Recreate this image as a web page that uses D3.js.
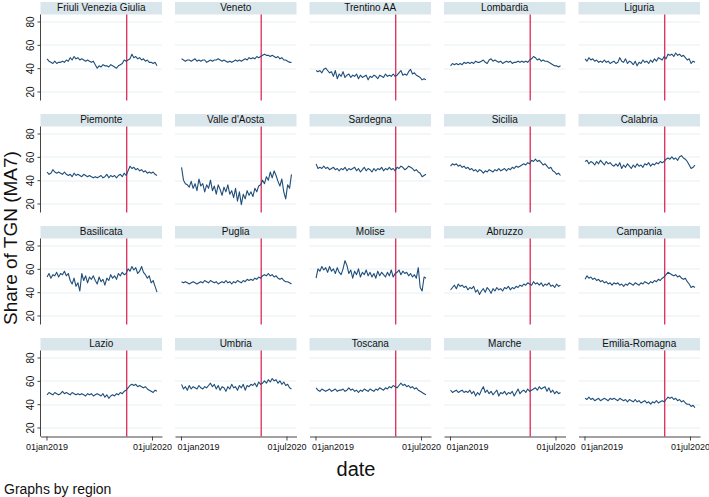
<!DOCTYPE html>
<html>
<head>
<meta charset="utf-8">
<script src="https://cdn.jsdelivr.net/npm/d3@7"></script>
<style>
  html, body { margin: 0; padding: 0; background: #fff; }
  svg { display: block; font-family: "Liberation Sans", Arial, Helvetica, sans-serif; }
</style>
</head>
<body>
<svg id="chart" width="709" height="497"></svg>
<script>
const regionNames = ["Friuli Venezia Giulia","Veneto","Trentino AA","Lombardia","Liguria",
  "Piemonte","Valle d'Aosta","Sardegna","Sicilia","Calabria",
  "Basilicata","Puglia","Molise","Abruzzo","Campania",
  "Lazio","Umbria","Toscana","Marche","Emilia-Romagna"];

const friuli = [48,46,45,44,46,44,45,45,46,45,47,46,49,47,50,48,49,47,48,47,46,47,46,45,46,43,40,42,41,43,42,42,41,43,42,41,40,42,43,44,47,46,47,48,52,49,50,48,49,47,48,46,47,45,45,44,45,42];
const veneto = [48,47,46,47,47,46,47,48,46,47,46,47,47,45,46,47,46,47,47,48,47,46,47,46,45,46,45,46,47,46,47,46,47,48,47,49,48,49,48,50,49,50,51,52,51,51,50,51,50,49,50,48,49,47,47,46,45,45];
const trentino = [38,37,38,36,39,40,38,36,37,33,38,31,35,33,37,32,34,35,32,34,33,35,31,34,32,33,34,30,33,32,34,33,31,34,33,32,35,33,34,33,35,33,34,36,38,34,35,34,37,39,35,36,34,33,32,30,31,30];
const lombardia = [42,44,43,44,43,44,43,45,44,45,44,45,44,46,45,45,46,47,45,44,47,48,46,47,46,45,46,44,45,46,45,46,44,45,45,46,45,46,45,46,45,47,48,50,49,47,48,46,47,46,46,45,44,43,42,42,41,42];
const liguria = [48,46,49,47,48,46,47,45,46,45,47,45,46,44,45,46,44,45,49,46,45,48,44,46,45,43,46,42,45,44,47,45,46,44,47,45,48,46,49,48,47,50,48,52,51,52,50,53,51,52,50,51,49,47,48,44,46,45];
const piemonte = [47,45,46,49,47,46,47,46,45,47,45,44,45,43,46,44,45,44,43,45,44,43,44,43,42,43,42,43,44,42,43,45,42,44,43,44,42,44,45,43,46,44,48,52,50,51,49,50,48,49,47,48,46,47,46,47,45,44];
const valleAosta = [51,40,37,36,34,39,33,37,31,41,35,37,30,36,33,40,31,35,28,36,32,27,34,30,36,28,31,25,33,22,30,19,28,24,31,27,30,26,33,30,35,36,40,37,43,40,47,42,48,44,39,35,41,30,24,36,33,45];
const sardegna = [54,50,51,50,52,50,51,49,50,51,49,50,48,50,49,51,48,50,49,50,51,48,50,47,49,51,48,50,49,47,50,48,50,49,51,48,50,49,51,49,50,48,51,50,52,51,49,50,52,51,50,48,49,47,46,43,44,45];
const sicilia = [52,54,53,54,52,53,51,52,50,51,49,50,48,49,47,49,48,46,48,47,49,48,47,49,48,50,48,49,50,48,50,49,51,50,52,51,52,53,54,53,55,54,57,56,58,56,57,55,53,54,52,50,51,48,47,45,46,44];
const calabria = [56,57,54,56,55,53,56,54,57,55,53,56,54,55,53,52,54,52,55,50,53,51,54,52,50,53,51,54,52,53,51,54,53,55,52,54,53,55,54,56,55,56,58,59,58,60,58,59,57,60,61,59,58,56,53,50,51,53];
const basilicata = [53,56,52,55,54,57,53,56,55,58,54,56,50,47,52,45,48,41,56,50,54,48,53,51,54,50,47,53,49,51,46,52,50,55,52,54,51,56,54,57,55,56,60,58,62,59,61,56,58,62,57,55,52,54,48,50,45,40];
const puglia = [49,48,49,48,47,48,49,48,47,48,49,48,50,49,48,50,49,48,49,47,48,49,48,50,48,49,47,49,48,50,49,48,50,49,51,50,51,50,52,51,53,52,54,55,54,56,54,55,53,54,52,51,52,50,49,49,48,47];
const molise = [52,60,58,62,59,61,57,62,58,60,56,61,57,55,60,67,63,56,59,52,58,55,60,53,57,55,59,54,57,53,56,52,58,54,57,55,53,57,54,59,53,56,57,59,55,58,56,57,54,56,53,55,52,61,44,41,53,52];
const abruzzo = [42,44,46,43,47,45,46,44,45,42,44,43,45,40,42,38,41,43,40,44,42,39,43,41,44,42,43,41,44,43,45,42,44,43,45,44,46,45,47,46,48,47,46,49,47,48,46,48,45,47,46,48,45,46,44,47,45,46];
const campania = [51,54,52,53,51,52,50,51,49,50,48,49,47,48,46,48,47,48,46,47,45,47,46,48,47,46,48,47,46,48,47,49,48,47,49,48,50,49,51,50,52,53,55,57,56,55,54,55,53,54,52,51,52,49,47,44,45,44];
const lazio = [48,50,49,48,50,49,48,49,51,49,50,49,48,50,49,48,49,48,49,48,47,49,48,49,47,48,49,48,47,49,46,48,45,47,48,47,49,48,50,49,51,52,54,56,57,56,57,55,56,55,54,55,53,52,51,50,52,51];
const umbria = [57,53,55,52,56,53,55,54,53,56,54,53,55,54,56,58,55,57,53,56,52,55,54,51,55,53,57,54,55,52,56,54,57,52,56,55,57,56,58,55,59,57,58,60,58,61,59,62,60,61,58,60,57,59,56,57,54,53];
const toscana = [54,52,51,53,52,51,52,53,51,52,53,51,52,52,53,51,52,54,52,53,51,52,50,52,51,53,52,51,53,52,51,53,52,54,53,52,54,53,55,54,56,55,54,56,58,56,57,55,56,54,55,53,54,52,51,50,49,48];
const marche = [52,50,51,52,50,51,52,50,51,50,52,49,51,47,50,48,52,55,50,52,49,51,48,50,52,47,50,49,51,48,50,49,51,47,50,53,49,51,52,50,53,51,52,53,54,52,55,53,54,55,51,54,50,52,49,51,49,50];
const emilia = [45,44,46,44,45,43,44,45,43,44,45,44,43,45,44,45,44,43,45,44,43,44,42,44,43,42,44,42,43,41,42,43,41,42,40,42,41,43,41,42,43,42,44,46,45,46,44,45,43,44,42,43,41,40,40,38,39,37];

const seriesValues = [friuli, veneto, trentino, lombardia, liguria,
  piemonte, valleAosta, sardegna, sicilia, calabria,
  basilicata, puglia, molise, abruzzo, campania,
  lazio, umbria, toscana, marche, emilia];

const sampleStart = "2019-01-04";
const sampleStepDays = 10;
const eventDate = "2020-02-21";
const yTicks = [20, 40, 60, 80];
const xTickDates = ["2019-01-01", "2020-07-01"];

// ---- drawing ----
const parse = d3.utcParse("%Y-%m-%d");
const fmt = d3.utcFormat("%d%b%Y");
const tickFmt = d => fmt(d).toLowerCase();

const nCols = 5, nRows = 4;
const colStep = 134.5, rowStep = 112;
const left0 = 40.5, top0 = 2;
const stripH = 12.5, plotW = 121.5, plotH = 86;

const x = d3.scaleUtc()
  .domain([parse("2018-12-01"), parse("2020-08-22")])
  .range([0, plotW]);
const y = d3.scaleLinear().domain([12.3, 86]).range([plotH, 0]);

const svg = d3.select("#chart");
const start = parse(sampleStart);
const line = d3.line()
  .x((d, i) => x(d3.utcDay.offset(start, i * sampleStepDays)))
  .y(d => y(d));

regionNames.forEach((name, k) => {
  const c = k % nCols, r = Math.floor(k / nCols);
  const gx = left0 + c * colStep, gy = top0 + r * rowStep;
  const g = svg.append("g").attr("transform", `translate(${gx},${gy})`);

  // strip
  g.append("rect").attr("x", 0).attr("y", 0).attr("width", plotW).attr("height", stripH)
    .attr("fill", "#d9e6ec");
  g.append("text").attr("x", plotW / 2).attr("y", stripH / 2 + 0.5)
    .attr("text-anchor", "middle").attr("dominant-baseline", "middle")
    .attr("font-size", 10).attr("fill", "#111").text(name);

  const p = g.append("g").attr("transform", `translate(0,${stripH})`);

  // gridlines
  p.selectAll("line.grid").data(yTicks).join("line")
    .attr("x1", 0).attr("x2", plotW)
    .attr("y1", d => Math.round(y(d)) + 0.5).attr("y2", d => Math.round(y(d)) + 0.5)
    .attr("stroke", "#e6eff2").attr("stroke-width", 1);

  // event line
  const ex = x(parse(eventDate));
  p.append("line").attr("x1", ex).attr("x2", ex).attr("y1", 0).attr("y2", plotH)
    .attr("stroke", "#de2a5a").attr("stroke-width", 1.3);

  // series
  p.append("path").datum(seriesValues[k]).attr("d", line)
    .attr("fill", "none").attr("stroke", "#1f4e79").attr("stroke-width", 1.1)
    .attr("stroke-linejoin", "round");

  // y axis on first column
  if (c === 0) {
    const ya = p.append("g").call(d3.axisLeft(y).tickValues(yTicks).tickSize(3).tickSizeOuter(0));
    ya.select(".domain").attr("stroke", "#444").attr("d", `M0,0V${plotH}`);
    ya.selectAll(".tick line").attr("stroke", "#444");
    ya.selectAll(".tick text")
      .attr("font-size", 10).attr("fill", "#111")
      .attr("x", null).attr("dy", null)
      .attr("transform", "translate(-7,0) rotate(-90)")
      .attr("text-anchor", "middle").attr("dominant-baseline", "auto")
      .attr("y", 0);
  }
  // x axis on last row
  if (r === nRows - 1) {
    const xa = p.append("g").attr("transform", `translate(0,${plotH})`)
      .call(d3.axisBottom(x).tickValues(xTickDates.map(parse)).tickFormat(tickFmt).tickSize(4).tickSizeOuter(0));
    xa.select(".domain").attr("stroke", "#444");
    xa.selectAll(".tick line").attr("stroke", "#444");
    xa.selectAll(".tick text").attr("font-size", 9).attr("fill", "#111").attr("dy", "0.75em").attr("y", 7);
    if (c > 0) {
      // first label is pushed right in the later panels (as in the reference)
      xa.selectAll(".tick text").filter((d, i) => i === 0)
        .attr("text-anchor", "start").attr("x", -4);
    }
  }
});

// titles
svg.append("text").attr("transform", "translate(17,238) rotate(-90)")
  .attr("text-anchor", "middle").attr("font-size", 19).attr("fill", "#111")
  .text("Share of TGN (MA7)");
svg.append("text").attr("x", 356).attr("y", 476).attr("text-anchor", "middle")
  .attr("font-size", 20).attr("fill", "#111").text("date");
svg.append("text").attr("x", 4).attr("y", 494).attr("font-size", 14).attr("fill", "#111")
  .text("Graphs by region");
</script>
</body>
</html>
